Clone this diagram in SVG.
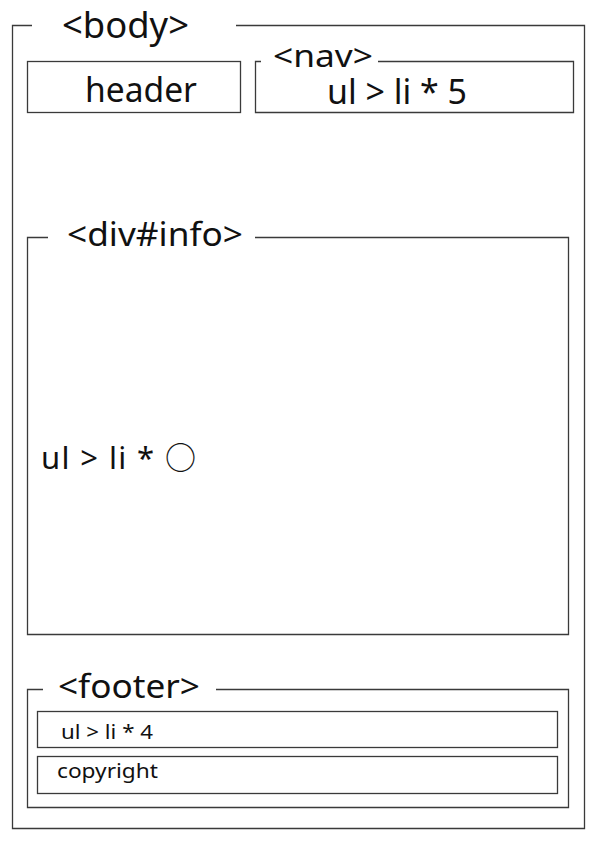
<svg xmlns="http://www.w3.org/2000/svg" width="595" height="842" viewBox="0 0 595 842">
<style>
.frame{fill:none;stroke:#3a3a3a;stroke-width:1.3}
.t{font-family:"Noto Sans","Noto Sans CJK JP",sans-serif;fill:#111}
</style>
<rect width="595" height="842" fill="#fff"/>
<g id="body">
<path class="frame" d="M32,25.5 H12.5 V828.5 H584.5 V25.5 H236"/>
<text class="t" x="62" y="38" font-size="36" textLength="127" lengthAdjust="spacingAndGlyphs">&lt;body&gt;</text>
</g>
<g id="header">
<rect class="frame" x="27.5" y="61.5" width="213" height="51"/>
<text class="t" x="85" y="102" font-size="35" textLength="112" lengthAdjust="spacingAndGlyphs">header</text>
</g>
<g id="nav">
<path class="frame" d="M261,61.5 H255.5 V112.5 H573.5 V61.5 H378"/>
<text class="t" x="273" y="67" font-size="30" textLength="100" lengthAdjust="spacingAndGlyphs">&lt;nav&gt;</text>
<text class="t" x="327" y="104" font-size="34" textLength="140" lengthAdjust="spacingAndGlyphs">ul &gt; li * 5</text>
</g>
<g id="div-info">
<path class="frame" d="M48,237.5 H27.5 V634.5 H568.5 V237.5 H255"/>
<text class="t" x="67" y="246" font-size="32" textLength="176" lengthAdjust="spacingAndGlyphs">&lt;div#info&gt;</text>
<text class="t" x="41" y="469" font-size="31" textLength="155" lengthAdjust="spacing">ul &gt; li * ○</text>
</g>
<g id="footer">
<path class="frame" d="M43,689.5 H27.5 V807.5 H568.5 V689.5 H216"/>
<text class="t" x="58" y="698" font-size="33" textLength="142" lengthAdjust="spacingAndGlyphs">&lt;footer&gt;</text>
</g>
<g id="footer-list">
<rect class="frame" x="37.5" y="711.5" width="520" height="36"/>
<text class="t" x="61" y="739" font-size="20" textLength="92" lengthAdjust="spacingAndGlyphs">ul &gt; li * 4</text>
</g>
<g id="copyright">
<rect class="frame" x="37.5" y="756.5" width="520" height="37"/>
<text class="t" x="57" y="778" font-size="20" textLength="101" lengthAdjust="spacingAndGlyphs">copyright</text>
</g>
</svg>
